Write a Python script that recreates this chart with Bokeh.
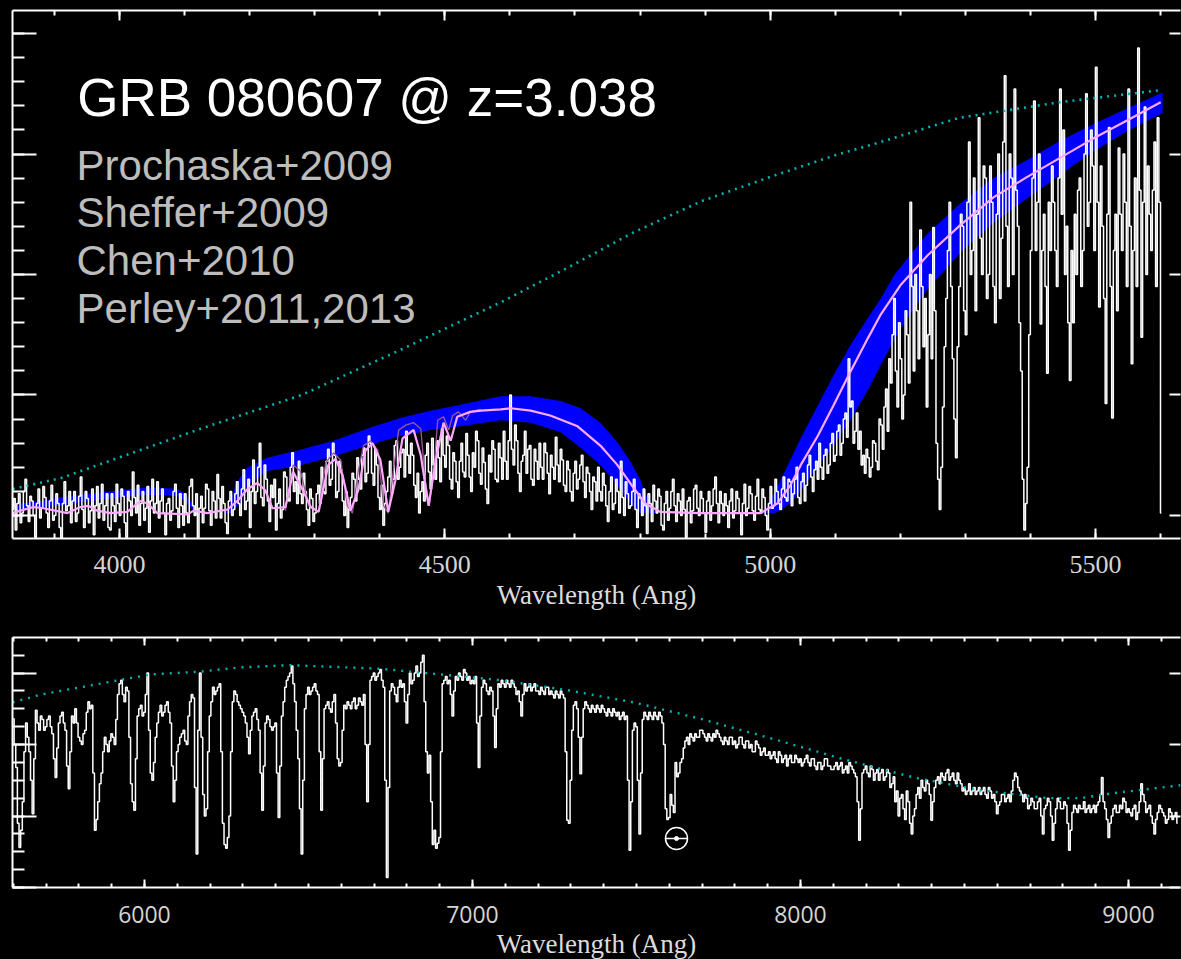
import numpy as np
from bokeh.plotting import figure
from bokeh.models import Label, SingleIntervalTicker, LinearAxis, Range1d
from bokeh.layouts import column
from bokeh.embed import file_html
from bokeh.resources import INLINE

# ---------------- top panel data (wavelength in Angstrom, arbitrary flux) ----------------
# spectrum pixels every 2.5 A: TOP_FLUX holds the even pixels, TOP_FLUX_MID the odd ones
TOP_WL_START = 3836
TOP_WL_STEP = 2.5
TOP_FLUX = [
    0.05, -0.12, 0.18, 0.02, 0.3, -0.05, 0.12, -0.18, 0.22, 0.06,
    0.15, -0.1, 0.25, 0.0, 0.1, -0.2, 0.28, 0.08, -0.06, 0.2,
    0.02, 0.32, -0.1, 0.14, 0.04, -0.16, 0.24, 0.1, -0.04, 0.18,
    -0.12, 0.08, 0.26, 0.0, 0.16, -0.18, 0.12, 0.36, 0.02, -0.08,
    0.2, 0.06, -0.14, 0.3, 0.1, -0.02, 0.22, -0.16, 0.14, 0.04,
    0.26, -0.1, 0.08, 0.18, -0.06, 0.3, 0.0, -0.18, 0.16, 0.06,
    0.22, -0.08, 0.12, 0.34, -0.02, 0.1, -0.15, 0.2, 0.05, 0.28,
    0.0, 0.38, 0.12, -0.1, 0.46, 0.2, 0.6, 0.08, 0.3, -0.05,
    0.15, -0.12, 0.22, 0.05, 0.32, 0.12, 0.52, 0.28, 0.45, 0.1,
    0.2, -0.08, 0.14, 0.02, 0.25, 0.4, 0.18, 0.55, 0.3, 0.5,
    0.2, 0.38, 0.0, -0.1, 0.15, 0.3, 0.48, 0.22, 0.56, 0.35,
    0.6, 0.25, 0.42, 0.05, -0.08, 0.2, 0.45, 0.3, 0.62, 0.4,
    0.55, 0.7, 0.35, 0.5, 0.15, 0.02, 0.28, 0.5, 0.36, 0.64,
    0.3, 0.48, 0.72, 0.4, 0.58, 0.22, 0.45, 0.15, 0.6, 0.32,
    0.5, 0.2, 0.4, 0.62, 0.26, 0.44, 0.1, 0.36, 0.55, 0.28,
    0.48, 0.7, 0.3, 1.0, 0.42, 0.62, 0.2, 0.5, 0.35, 0.58,
    0.25, 0.45, 0.6, 0.3, 0.52, 0.18, 0.4, 0.65, 0.28, 0.46,
    0.2, 0.38, 0.12, 0.45, 0.3, 0.5, 0.15, 0.35, 0.05, 0.28,
    0.4, 0.12, 0.25, -0.05, 0.32, 0.1, 0.2, 0.45, 0.0, 0.18,
    0.08, 0.3, -0.1, 0.14, 0.22, -0.15, 0.1, 0.25, 0.02, 0.16,
    -0.12, 0.2, 0.06, 0.3, -0.05, 0.12, 0.22, -0.18, 0.15, 0.04,
    0.25, 0.0, 0.14, -0.14, 0.2, 0.08, 0.32, -0.06, 0.1, 0.18,
    -0.1, 0.22, 0.04, 0.14, -0.16, 0.26, 0.06, 0.18, -0.04, 0.3,
    0.02, 0.15, -0.12, 0.24, 0.08, 0.2, 0.05, 0.32, 0.12, 0.28,
    0.18, 0.4, 0.1, 0.35, 0.25, 0.5, 0.2, 0.45, 0.6, 0.3,
    0.55, 0.42, 0.68, 0.5, 0.75, 0.6, 0.85, 1.3, 0.95, 0.7,
    0.55, 0.42, 0.35, 0.48, 0.4, 0.6, 0.38, 0.75, 0.9, 0.7,
    1.1, 1.8, 0.9, 1.3, 1.0, 1.5, 2.6, 1.2, 1.7, 2.37,
    1.4, 0.9, 2.0, 2.39, 0.6, 0.05, 0.9, 1.8, 2.6, 1.3,
    0.48, 1.9, 2.4, 1.5, 3.1, 2.2, 1.7, 3.3, 2.0, 2.8,
    2.0, 2.6, 1.6, 3.0, 2.3, 3.65, 1.9, 2.8, 3.54, 2.4,
    1.2, -0.12, 0.4, 2.2, 3.44, 2.6, 1.59, 2.5, 1.18, 2.2,
    2.6, 1.9, 3.54, 3.2, 2.4, 1.12, 1.6, 2.0, 2.8, 2.2,
    3.5, 2.6, 2.9, 3.72, 1.73, 2.4, 0.93, 3.22, 0.81, 2.5,
    3.05, 2.2, 2.6, 3.54, 1.26, 2.8, 3.88, 1.48, 3.39, 2.9,
    2.2, 3.1, 3.3, 0.02,
]
TOP_FLUX_MID = [
    0.14, 0.1, -0.06, 0.2, 0.08, 0.16, 0.0, 0.1, -0.02, 0.24,
    0.02, 0.12, -0.04, 0.18, -0.1, 0.1, 0.04, 0.2, 0.12, -0.05,
    0.16, 0.05, 0.2, -0.06, 0.22, 0.08, -0.02, 0.26, 0.08, -0.1,
    0.18, -0.05, 0.1, 0.22, -0.06, 0.2, 0.0, 0.15, 0.25, 0.1,
    -0.04, 0.24, 0.12, 0.02, 0.28, 0.12, 0.02, 0.1, -0.04, 0.2,
    0.06, 0.18, -0.08, 0.02, 0.24, 0.08, 0.18, 0.06, -0.06, 0.26,
    0.04, 0.2, -0.02, 0.14, 0.24, -0.06, 0.12, 0.0, 0.18, 0.1,
    0.22, 0.05, 0.3, 0.2, 0.1, 0.4, 0.15, 0.42, 0.12, 0.25,
    0.3, 0.1, -0.02, 0.36, 0.15, 0.4, 0.2, 0.1, 0.18, 0.35,
    0.05, 0.22, -0.05, 0.18, 0.1, 0.2, 0.45, 0.25, 0.6, 0.15,
    0.45, 0.12, 0.2, 0.08, 0.35, 0.12, 0.3, 0.5, 0.28, 0.66,
    0.35, 0.55, 0.15, 0.25, 0.1, 0.32, 0.18, 0.58, 0.3, 0.52,
    0.32, 0.5, 0.6, 0.25, 0.35, 0.2, 0.12, 0.6, 0.22, 0.42,
    0.62, 0.28, 0.5, 0.66, 0.3, 0.52, 0.28, 0.45, 0.36, 0.68,
    0.32, 0.52, 0.7, 0.35, 0.56, 0.22, 0.5, 0.62, 0.3, 0.6,
    0.3, 0.45, 0.62, 0.55, 0.75, 0.35, 0.45, 0.7, 0.55, 0.3,
    0.55, 0.3, 0.4, 0.6, 0.35, 0.5, 0.3, 0.42, 0.55, 0.25,
    0.45, 0.2, 0.35, 0.22, 0.42, 0.28, 0.4, 0.2, 0.32, 0.12,
    0.2, 0.35, 0.08, 0.2, 0.05, 0.3, 0.02, 0.15, 0.28, 0.06,
    0.2, 0.05, 0.18, 0.0, 0.08, 0.18, -0.05, 0.12, 0.22, -0.08,
    0.1, -0.04, 0.2, 0.08, 0.18, 0.0, 0.05, 0.12, -0.06, 0.22,
    0.06, 0.2, 0.02, 0.12, -0.04, 0.22, 0.1, 0.2, 0.0, 0.08,
    0.12, -0.02, 0.2, 0.02, 0.1, 0.0, 0.24, 0.04, 0.16, 0.05,
    0.22, 0.0, 0.1, 0.06, 0.3, 0.1, 0.22, 0.15, 0.3, 0.08,
    0.3, 0.15, 0.28, 0.12, 0.42, 0.32, 0.38, 0.3, 0.4, 0.5,
    0.35, 0.6, 0.45, 0.7, 0.5, 0.8, 0.65, 0.9, 0.6, 0.85,
    0.7, 0.5, 0.55, 0.32, 0.62, 0.45, 0.8, 0.55, 1.05, 1.3,
    1.5, 1.2, 1.6, 0.8, 1.7, 1.1, 1.9, 2.0, 1.3, 1.9,
    1.8, 1.5, 1.3, 1.7, 0.3, 0.4, 1.4, 2.2, 1.9, 0.8,
    1.4, 2.5, 1.7, 2.6, 2.0, 2.8, 2.5, 2.3, 2.9, 1.8,
    2.9, 1.9, 2.5, 1.8, 3.1, 2.4, 3.0, 2.0, 2.7, 1.6,
    0.3, 0.1, 1.5, 2.8, 2.2, 3.0, 2.2, 1.9, 2.6, 2.9,
    2.2, 2.8, 2.5, 2.0, 1.6, 2.2, 2.5, 2.7, 1.9, 3.0,
    2.4, 3.2, 2.2, 2.6, 2.9, 1.8, 2.5, 1.9, 2.2, 1.7,
    2.5, 3.0, 1.9, 2.4, 2.2, 1.9, 2.7, 2.6, 2.0, 2.5,
    2.7, 1.9, 2.6,
]

# blue model bands (lower / upper edges)
BAND_A_WL = [3839, 3848, 3879, 3909, 3940, 3971, 4002, 4037, 4063, 4089, 4101, 4109, 4117]
BAND_A_HI = [0.04, 0.10, 0.12, 0.15, 0.17, 0.19, 0.21, 0.23, 0.23, 0.22, 0.18, 0.12, 0.04]
BAND_A_LO = [0.02, 0.05, 0.07, 0.08, 0.11, 0.13, 0.15, 0.17, 0.17, 0.16, 0.12, 0.07, 0.02]

BAND_B_WL = [4164, 4171, 4178, 4186, 4197, 4227, 4274, 4329, 4386, 4432, 4478,
             4524, 4586, 4632, 4678, 4709, 4739, 4765, 4785, 4801, 4813, 4824]
BAND_B_HI = [0.02, 0.12, 0.25, 0.32, 0.40, 0.48, 0.54, 0.62, 0.73, 0.81, 0.87,
             0.92, 0.99, 0.99, 0.95, 0.89, 0.77, 0.61, 0.45, 0.29, 0.12, 0.02]
BAND_B_LO = [0.02, 0.02, 0.06, 0.11, 0.25, 0.37, 0.41, 0.49, 0.59, 0.66, 0.71,
             0.74, 0.79, 0.77, 0.69, 0.56, 0.42, 0.25, 0.10, 0.02, 0.02, 0.02]

BAND_C_WL = [4990, 5008, 5031, 5047, 5073, 5097, 5123, 5150, 5170, 5190,
             5216, 5242, 5292, 5343, 5395, 5446, 5497, 5549, 5603]
BAND_C_HI = [0.02, 0.21, 0.46, 0.64, 0.91, 1.16, 1.41, 1.64, 1.80, 1.99,
             2.17, 2.34, 2.59, 2.80, 2.95, 3.11, 3.25, 3.38, 3.51]
BAND_C_LO = [0.02, 0.02, 0.10, 0.21, 0.40, 0.58, 0.79, 1.04, 1.25, 1.45,
             1.68, 1.88, 2.18, 2.43, 2.63, 2.83, 3.02, 3.19, 3.34]

# pink smoothed model
PINK_WL = [3836, 3848, 3868, 3883, 3920, 3940, 3952, 3966, 3986, 4012,
           4032, 4043, 4058, 4105, 4114, 4135, 4166, 4181, 4197, 4212,
           4224, 4235, 4255, 4267, 4278, 4294, 4306, 4321, 4332, 4343,
           4355, 4367, 4378, 4389, 4401, 4413, 4424, 4435, 4452, 4463,
           4475, 4486, 4498, 4509, 4519, 4539, 4555, 4586, 4601, 4632,
           4662, 4704, 4739, 4765, 4790, 4808, 4831, 4893, 4985, 5011,
           5031, 5047, 5073, 5097, 5123, 5150, 5170, 5200, 5242, 5292,
           5343, 5395, 5446, 5497, 5549, 5600]
PINK_FLUX = [0.02, 0.04, 0.07, 0.06, 0.02, 0.07, 0.08, 0.04, 0.02, 0.03,
             0.12, 0.10, 0.02, 0.01, 0.04, 0.02, 0.05, 0.12, 0.22, 0.27,
             0.21, 0.06, 0.07, 0.36, 0.25, 0.07, 0.03, 0.42, 0.47, 0.33,
             0.04, 0.21, 0.54, 0.60, 0.46, 0.03, 0.29, 0.64, 0.71, 0.50,
             0.08, 0.46, 0.77, 0.62, 0.82, 0.86, 0.87, 0.88, 0.89, 0.87,
             0.83, 0.74, 0.58, 0.42, 0.23, 0.10, 0.03, 0.02, 0.02, 0.10,
             0.25, 0.42, 0.66, 0.91, 1.19, 1.47, 1.67, 1.91, 2.16, 2.41,
             2.64, 2.81, 2.97, 3.13, 3.28, 3.43]

# dark purple unsmoothed model (forest region)
PURPLE_WL = [4255, 4267, 4278, 4291, 4306, 4317, 4329, 4340, 4350, 4358,
             4367, 4375, 4386, 4397, 4406, 4413, 4421, 4429, 4440, 4452,
             4463, 4470, 4476, 4483, 4489, 4498, 4506, 4512, 4521, 4532,
             4539, 4555]
PURPLE_FLUX = [0.04, 0.42, 0.37, 0.08, 0.03, 0.44, 0.52, 0.46, 0.08, 0.02,
               0.37, 0.58, 0.62, 0.54, 0.08, 0.02, 0.37, 0.71, 0.75, 0.77,
               0.72, 0.29, 0.08, 0.37, 0.79, 0.82, 0.71, 0.83, 0.86, 0.79,
               0.86, 0.88]

# cyan intrinsic continuum
CONT_TOP_WL = [3836, 3910, 4020, 4125, 4280, 4430, 4590, 4690, 4790, 4895, 5000, 5100, 5170, 5290, 5445, 5600]
CONT_TOP_FLUX = [0.22, 0.31, 0.52, 0.72, 1.0, 1.37, 1.78, 2.06, 2.35, 2.61, 2.81, 2.99, 3.10, 3.30, 3.43, 3.53]

# ---------------- bottom panel data ----------------
# spectrum pixels every 5 A: BOT_FLUX holds the even pixels, BOT_FLUX_MID the odd ones
BOT_WL_START = 5600
BOT_WL_STEP = 5
BOT_FLUX = [
    2.36, 1.68, 0.56, 1.2, 2.3, 1.9, 1.03, 2.48, 2.2, 2.35,
    2.25, 2.4, 2.15, 1.54, 2.3, 2.45, 2.2, 1.38, 2.4, 2.5,
    2.1, 2.0, 2.2, 2.6, 2.55, 0.8, 1.2, 1.6, 2.1, 1.9,
    2.15, 2.0, 2.7, 2.9, 2.6, 2.75, 1.45, 1.08, 2.4, 2.55,
    2.45, 3.0, 1.6, 1.75, 2.3, 2.55, 2.45, 2.6, 2.3, 1.2,
    1.9, 2.1, 2.2, 2.0, 2.6, 2.65, 0.47, 3.0, 1.3, 1.1,
    2.4, 2.8, 2.75, 2.85, 0.9, 0.55, 1.0, 2.6, 2.7, 2.55,
    2.45, 2.3, 1.87, 2.4, 2.5, 2.2, 1.08, 2.3, 2.35, 2.2,
    2.3, 0.98, 2.4, 2.8, 2.95, 3.1, 2.6, 1.8, 0.47, 2.5,
    2.8, 2.75, 2.85, 2.7, 1.08, 2.5, 2.6, 2.45, 2.7, 1.8,
    1.75, 2.55, 2.6, 2.5, 2.65, 2.55, 2.6, 2.7, 1.2, 2.9,
    3.0, 2.95, 3.05, 2.8, 0.14, 2.75, 2.8, 2.6, 2.9, 2.85,
    2.3, 3.0, 2.9, 3.1, 3.0, 3.25, 1.9, 1.85, 0.6, 0.55,
    0.7, 2.85, 2.95, 2.9, 2.4, 2.95, 3.0, 2.9, 3.0, 2.95,
    2.9, 2.95, 1.68, 2.8, 2.85, 2.7, 2.75, 1.96, 2.85, 2.9,
    2.8, 2.85, 2.9, 2.8, 2.75, 2.4, 2.85, 2.8, 2.75, 2.85,
    2.75, 2.8, 2.7, 2.8, 2.75, 2.65, 2.7, 2.75, 2.65, 0.94,
    1.5, 2.55, 2.5, 1.59, 2.5, 2.55, 2.45, 2.5, 2.55, 2.45,
    2.5, 2.4, 2.45, 2.5, 2.4, 2.35, 2.45, 2.4, 0.52, 2.2,
    2.25, 0.75, 2.35, 2.4, 2.45, 2.35, 2.4, 2.45, 2.3, 1.1,
    0.98, 1.15, 1.75, 1.6, 1.8, 2.05, 2.0, 2.1, 2.15, 2.1,
    2.2, 2.1, 2.15, 2.05, 2.1, 2.15, 2.05, 2.1, 2.0, 2.1,
    2.05, 2.0, 2.1, 1.95, 2.05, 2.0, 1.9, 2.0, 1.85, 1.95,
    1.85, 1.8, 1.9, 1.75, 1.85, 1.8, 1.7, 1.85, 1.75, 1.8,
    1.8, 1.75, 1.85, 1.7, 1.8, 1.65, 1.75, 1.7, 1.8, 1.7,
    1.65, 1.75, 1.7, 1.6, 1.7, 1.75, 1.65, 1.55, 0.66, 1.6,
    1.7, 1.55, 1.65, 1.6, 1.5, 1.65, 1.55, 1.6, 1.45, 1.2,
    1.0, 1.3, 0.95, 1.2, 0.75, 1.1, 1.4, 1.5, 1.35, 1.45,
    0.94, 1.4, 1.55, 1.6, 1.5, 1.65, 1.55, 1.5, 1.6, 1.45,
    1.4, 1.35, 1.3, 1.4, 1.35, 1.3, 1.4, 1.25, 1.35, 1.3,
    1.03, 1.2, 1.3, 1.25, 1.2, 1.5, 1.55, 1.35, 1.2, 1.25,
    1.15, 1.2, 1.1, 1.25, 0.75, 1.15, 1.2, 0.66, 1.1, 1.2,
    1.1, 1.15, 0.52, 1.05, 1.1, 1.15, 1.1, 1.05, 1.15, 1.1,
    1.05, 1.2, 1.54, 1.1, 0.7, 1.0, 1.15, 1.05, 1.1, 1.2,
    1.1, 1.0, 1.15, 1.05, 1.45, 1.2, 1.1, 1.0, 0.75, 1.05,
    1.1, 1.0, 0.95, 1.05, 1.0, 0.9,
]
BOT_FLUX_MID = [
    2.0, 0.9, 0.8, 1.9, 2.1, 1.5, 1.8, 2.3, 2.4, 2.2,
    2.35, 2.25, 1.8, 1.95, 2.4, 2.3, 1.7, 1.9, 2.3, 2.3,
    2.05, 2.15, 2.45, 2.5, 1.6, 0.95, 1.45, 1.9, 2.0, 2.05,
    2.1, 2.35, 2.85, 2.7, 2.8, 2.1, 1.2, 1.8, 2.5, 2.4,
    2.7, 2.2, 1.5, 2.1, 2.45, 2.4, 2.55, 2.45, 1.7, 1.5,
    2.0, 2.15, 2.05, 2.4, 2.7, 1.4, 2.2, 2.1, 1.0, 1.9,
    2.6, 2.7, 2.8, 1.9, 0.6, 0.7, 1.9, 2.75, 2.6, 2.5,
    2.4, 2.1, 2.2, 2.45, 2.35, 1.6, 1.7, 2.4, 2.25, 2.25,
    1.6, 1.7, 2.6, 2.9, 3.0, 2.85, 2.2, 1.1, 1.5, 2.7,
    2.7, 2.8, 2.75, 1.9, 1.8, 2.55, 2.5, 2.6, 2.3, 1.7,
    2.2, 2.5, 2.55, 2.6, 2.5, 2.65, 2.55, 2.0, 2.0, 2.95,
    2.9, 3.0, 2.9, 1.5, 1.4, 2.85, 2.7, 2.8, 2.8, 2.6,
    2.7, 2.85, 3.0, 2.95, 3.15, 2.6, 1.6, 1.2, 0.8, 0.62,
    1.9, 2.9, 2.85, 2.7, 2.75, 2.9, 2.95, 3.05, 2.9, 2.85,
    2.85, 2.3, 2.4, 2.9, 2.75, 2.8, 2.4, 2.5, 2.8, 2.85,
    2.9, 2.8, 2.85, 2.7, 2.6, 2.7, 2.75, 2.85, 2.8, 2.75,
    2.7, 2.75, 2.8, 2.7, 2.7, 2.75, 2.65, 2.7, 1.9, 0.9,
    2.2, 2.6, 2.1, 2.1, 2.6, 2.5, 2.55, 2.45, 2.5, 2.55,
    2.45, 2.5, 2.4, 2.45, 2.45, 2.4, 2.35, 1.5, 1.2, 2.3,
    1.5, 1.6, 2.45, 2.35, 2.4, 2.45, 2.35, 2.4, 2.0, 0.95,
    1.3, 1.05, 1.55, 1.75, 1.95, 2.1, 2.15, 2.05, 2.1, 2.2,
    2.15, 2.05, 2.1, 2.15, 2.2, 2.1, 2.0, 2.05, 2.1, 2.0,
    1.95, 2.1, 2.0, 2.05, 1.95, 1.9, 2.05, 1.95, 1.9, 1.85,
    1.9, 1.85, 1.8, 1.9, 1.75, 1.85, 1.8, 1.75, 1.85, 1.75,
    1.7, 1.8, 1.75, 1.8, 1.7, 1.75, 1.65, 1.8, 1.7, 1.65,
    1.7, 1.65, 1.75, 1.65, 1.6, 1.7, 1.6, 1.2, 1.1, 1.65,
    1.6, 1.7, 1.5, 1.65, 1.6, 1.5, 1.65, 1.4, 1.55, 1.35,
    1.25, 1.1, 1.35, 0.9, 1.0, 1.3, 1.25, 1.4, 1.5, 1.3,
    1.2, 1.5, 1.45, 1.55, 1.6, 1.5, 1.6, 1.45, 1.5, 1.35,
    1.3, 1.45, 1.35, 1.3, 1.4, 1.35, 1.3, 1.4, 1.25, 1.2,
    1.15, 1.3, 1.2, 1.3, 1.35, 1.6, 1.4, 1.3, 1.3, 1.1,
    1.25, 1.1, 1.2, 1.0, 1.1, 1.25, 1.0, 0.9, 1.25, 1.1,
    1.2, 0.9, 0.8, 1.15, 1.05, 1.1, 1.2, 1.1, 1.05, 1.15,
    1.15, 1.3, 1.2, 0.95, 0.9, 1.1, 1.05, 1.15, 1.25, 1.05,
    1.05, 1.1, 0.95, 1.2, 1.3, 1.05, 1.15, 0.9, 0.95, 1.15,
    1.05, 0.9, 1.1, 0.95, 1.05,
]
CONT_BOT_WL = [5598, 5677, 5720, 6018, 6171, 6293, 6445, 6720, 6881, 7085, 7290,
               7491, 7695, 7899, 8143, 8345, 8549, 8753, 8854, 8954, 9159]
CONT_BOT_FLUX = [2.59, 2.69, 2.73, 2.98, 3.02, 3.08, 3.11, 3.06, 2.99, 2.90, 2.76,
                 2.59, 2.36, 2.10, 1.78, 1.54, 1.36, 1.25, 1.25, 1.32, 1.43]
EARTH_WL = [7622]
EARTH_FLUX = [0.685]

TITLE = "GRB 080607 @ z=3.038"
REFS = ["Prochaska+2009", "Sheffer+2009", "Chen+2010", "Perley+2011,2013"]
XLABEL = "Wavelength (Ang)"


def style_axis(ax, major_in, minor_in, labels, font="Liberation Serif", size="26px"):
    ax.axis_line_color = "white"
    ax.axis_line_width = 2
    ax.major_tick_line_color = "white"
    ax.major_tick_line_width = 2
    ax.major_tick_in = major_in
    ax.major_tick_out = 0
    if minor_in > 0:
        ax.minor_tick_line_color = "white"
        ax.minor_tick_line_width = 2
        ax.minor_tick_in = minor_in
        ax.minor_tick_out = 0
    else:
        ax.minor_tick_line_color = None
    if labels:
        ax.major_label_text_font = font
        ax.major_label_text_font_size = size
        ax.major_label_text_color = "#d4d4d4"
    else:
        ax.major_label_text_color = None
        ax.major_label_standoff = 0


def make_fig(xr, yr, fh, top, bottom):
    p = figure(frame_width=1168, frame_height=fh, x_range=Range1d(*xr), y_range=Range1d(*yr),
               output_backend="svg", toolbar_location=None,
               x_axis_location=None, y_axis_location=None,
               min_border_left=12, min_border_right=1, min_border_top=top, min_border_bottom=bottom,
               background_fill_color="black", border_fill_color="black", outline_line_color=None)
    p.xgrid.visible = False
    p.ygrid.visible = False
    return p


# ---------------- top figure ----------------
p1 = make_fig((3835.6, 5630.5), (-0.191, 4.191), 528, 10, 90)

xt = SingleIntervalTicker(interval=500, num_minor_ticks=5)
yt = SingleIntervalTicker(interval=1, num_minor_ticks=5)
b1 = LinearAxis(ticker=xt, axis_label=XLABEL)
style_axis(b1, 10, 5, True)
b1.major_label_standoff = 17
b1.axis_label_text_font = "Liberation Serif"
b1.axis_label_text_font_size = "27px"
b1.axis_label_text_font_style = "normal"
b1.axis_label_text_color = "#dcdcdc"
b1.axis_label_standoff = 4
p1.add_layout(b1, "below")
a1 = LinearAxis(ticker=xt)
style_axis(a1, 10, 5, False)
p1.add_layout(a1, "above")
l1 = LinearAxis(ticker=yt)
style_axis(l1, 24, 12, False)
p1.add_layout(l1, "left")
r1 = LinearAxis(ticker=yt)
style_axis(r1, 11, 0, False)
r1.axis_line_color = None
p1.add_layout(r1, "right")

for wl, lo, hi in [(BAND_A_WL, BAND_A_LO, BAND_A_HI), (BAND_B_WL, BAND_B_LO, BAND_B_HI),
                   (BAND_C_WL, BAND_C_LO, BAND_C_HI)]:
    p1.varea(x=wl, y1=lo, y2=hi, fill_color="#0000ff")

top_flux = np.empty(len(TOP_FLUX) + len(TOP_FLUX_MID))
top_flux[0::2] = TOP_FLUX
top_flux[1::2] = TOP_FLUX_MID
top_wl = TOP_WL_START + TOP_WL_STEP * np.arange(len(top_flux))
p1.step(top_wl, top_flux, mode="center", line_color="white", line_width=1.5)
p1.line(PURPLE_WL, PURPLE_FLUX, line_color="#9a5a9a", line_width=1.3)
p1.line(PINK_WL, PINK_FLUX, line_color="#ffaaff", line_width=2.2)
p1.line(CONT_TOP_WL, CONT_TOP_FLUX, line_color="#00b4b4", line_width=2.6, line_dash="2 5")

p1.add_layout(Label(x=3935, y=3.47, text=TITLE, text_color="white", text_font="Liberation Sans",
                    text_font_size="53px", text_baseline="alphabetic"))
for txt, yy in zip(REFS, [2.905, 2.515, 2.117, 1.718]):
    p1.add_layout(Label(x=3934, y=yy, text=txt, text_color="#bdbdbd", text_font="Liberation Sans",
                        text_font_size="42px", text_baseline="alphabetic"))

# ---------------- bottom figure ----------------
p2 = make_fig((5597.6, 9158.6), (0.0, 3.497), 250, 9, 72)
xt2 = SingleIntervalTicker(interval=1000, num_minor_ticks=10)
yt2 = SingleIntervalTicker(interval=1, num_minor_ticks=4)
b2 = LinearAxis(ticker=xt2, axis_label=XLABEL)
style_axis(b2, 8, 4, True, font="Open Sans", size="23px")
b2.major_label_standoff = 18
b2.axis_label_text_font = "Liberation Serif"
b2.axis_label_text_font_size = "27px"
b2.axis_label_text_font_style = "normal"
b2.axis_label_text_color = "#dcdcdc"
b2.axis_label_standoff = 3
p2.add_layout(b2, "below")
a2 = LinearAxis(ticker=xt2)
style_axis(a2, 8, 4, False)
p2.add_layout(a2, "above")
l2 = LinearAxis(ticker=yt2)
style_axis(l2, 24, 12, False)
p2.add_layout(l2, "left")
r2 = LinearAxis(ticker=yt2)
style_axis(r2, 11, 0, False)
r2.axis_line_color = None
p2.add_layout(r2, "right")

bot_flux = np.empty(len(BOT_FLUX) + len(BOT_FLUX_MID))
bot_flux[0::2] = BOT_FLUX
bot_flux[1::2] = BOT_FLUX_MID
bot_wl = BOT_WL_START + BOT_WL_STEP * np.arange(len(bot_flux))
p2.step(bot_wl, bot_flux, mode="center", line_color="white", line_width=1.5)
p2.line(CONT_BOT_WL, CONT_BOT_FLUX, line_color="#00b4b4", line_width=2.4, line_dash="2 6")
p2.scatter(EARTH_WL, EARTH_FLUX, marker="circle", size=22, fill_color=None, line_color="white", line_width=1.5)
p2.scatter(EARTH_WL, EARTH_FLUX, marker="dash", size=22, line_color="white", line_width=1.5)
p2.scatter(EARTH_WL, EARTH_FLUX, marker="circle", size=4, fill_color="white", line_color="white")

layout = column(p1, p2, spacing=0, background="black")
html = file_html(layout, INLINE)
html = html.replace("<head>", "<head><style>html,body{margin:0;padding:0;background:#000;}</style>", 1)
open("out.html", "w").write(html)
